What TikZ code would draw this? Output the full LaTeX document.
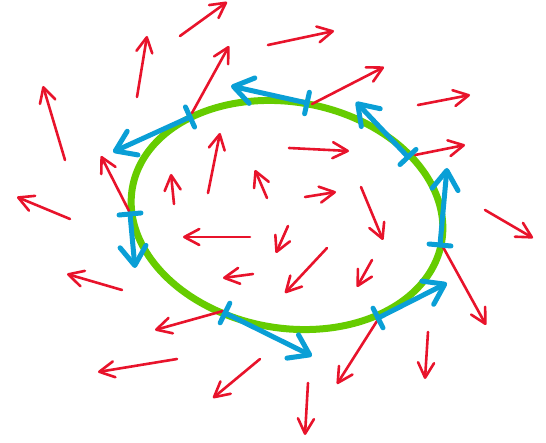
\documentclass[tikz,border=0pt]{standalone}
\usetikzlibrary{arrows.meta,calc}
\definecolor{vred}{HTML}{E8132B}
\definecolor{vblue}{HTML}{0A9FD6}
\definecolor{vgreen}{HTML}{66CC00}
\begin{document}
\begin{tikzpicture}[x=1pt,y=-1pt,
  redarrow/.style={draw=vred, line width=2.6pt, line cap=round, line join=round,
    -{Straight Barb[length=15pt,width=16pt,round]}},
  bluearrow/.style={draw=vblue, line width=5pt, line cap=round, line join=round,
    -{Straight Barb[length=19pt,width=26pt,round]}},
  bluetick/.style={draw=vblue, line width=5pt, line cap=round},
  ring/.style={draw=vgreen, line width=7pt, line join=round}]
\useasboundingbox (0,0) rectangle (546,443);
% green closed curve (tilted ellipse)
\draw[ring] plot[domain=0:360, samples=120, smooth]
  ({287+157*cos(\x)*cos(10)-113*sin(\x)*sin(10)},
   {215+157*cos(\x)*sin(10)+113*sin(\x)*cos(10)}) -- cycle;
% red vector field
\foreach \a/\b/\c/\d in {
  180/36/227/2, 137/97/147/36, 268/45/334/31, 192/113/229/46,
  312/104/384/67, 418/105/470/95, 65/160/43/86, 70/219/17/197,
  129/211/101/156, 174/204/171/174, 208/193/220/133, 267/198/255/170,
  289/148/349/151, 415/155/465/145, 305/197/336/192, 361/187/383/240,
  485/210/533/238, 250/237/183/237, 288/226/276/253, 253/274/223/278,
  327/248/285/293, 372/260/357/287, 223/311/155/330, 122/290/67/274,
  177/359/98/372, 260/359/213/398, 377/321/337/384, 428/332/425/379,
  308/383/305/435, 443/247/486/325}
  \draw[redarrow] (\a,\b) -- (\c,\d);
% blue tangent vectors
\foreach \a/\b/\c/\d in {
  190/117/113/152, 307/103/231/86, 408/157/356/102, 440/245/447/168,
  378/318/447/283, 225/313/312/356, 130/214/135/268} {
  \coordinate (s) at (\a,\b);
  \coordinate (e) at (\c,\d);
  \draw[bluearrow] (s) -- (e);
  \draw[bluetick] ($(s)!11pt!90:(e)$) -- ($(s)!11pt!-90:(e)$);
}
\end{tikzpicture}
\end{document}
